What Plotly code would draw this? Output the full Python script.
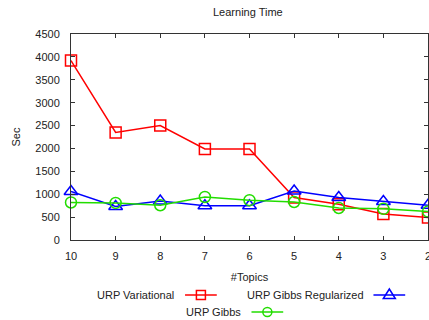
import plotly.graph_objects as go

# Learning time (seconds) per number of topics
topics = [10, 9, 8, 7, 6, 5, 4, 3, 2]
urp_variational = [3920, 2350, 2500, 1990, 1990, 930, 780, 570, 490]
urp_gibbs_reg = [1060, 730, 850, 750, 750, 1070, 930, 840, 760]
urp_gibbs = [820, 810, 760, 940, 870, 830, 700, 680, 620]

y_ticks = [0, 500, 1000, 1500, 2000, 2500, 3000, 3500, 4000, 4500]
x_ticks = topics

RED = "#ff0000"
GREEN = "#22dd00"
BLUE = "#0000ff"
FONT = "Liberation Sans, Arial, sans-serif"
AXIS = "#333333"

W, H = 433, 320
ML, MR, MT, MB = 71, 2, 34, 80
PW, PH = W - ML - MR, H - MT - MB

series = [
    ("URP Variational", urp_variational, RED, "square-open", 11),
    ("URP Gibbs Regularized", urp_gibbs_reg, BLUE, "triangle-up-open", 12),
    ("URP Gibbs", urp_gibbs, GREEN, "circle-open", 11),
]

fig = go.Figure()
for name, vals, col, sym, size in series:
    fig.add_trace(go.Scatter(
        x=topics, y=vals, name=name, mode="lines+markers",
        line=dict(color=col, width=1.5),
        marker=dict(symbol=sym, size=size, color=col, line=dict(color=col, width=1.5)),
        cliponaxis=False, showlegend=False,
    ))


def px_x(px):
    return (px - ML) / PW


def px_y(py):
    return (MT + PH - py) / PH


# gnuplot-style key: label on the left, sample line and marker on the right
key = [
    ("URP Variational", RED, "square", 177, 186, 218, 295),
    ("URP Gibbs Regularized", BLUE, "triangle", 368, 376, 408, 295),
    ("URP Gibbs", GREEN, "circle", 244, 253, 285, 312),
]
shapes = []
annotations = []
for label, col, kind, tx, lx0, lx1, ly in key:
    annotations.append(dict(
        x=px_x(tx), y=px_y(ly), xref="paper", yref="paper", text=label,
        showarrow=False, xanchor="right", yanchor="middle",
        font=dict(family=FONT, size=11, color="#222222"),
    ))
    shapes.append(dict(type="line", xref="paper", yref="paper",
                       x0=px_x(lx0), x1=px_x(lx1), y0=px_y(ly), y1=px_y(ly),
                       line=dict(color=col, width=1.5)))
    cx = px_x((lx0 + lx1) / 2)
    cy = px_y(ly)
    common = dict(xref="paper", yref="paper", xsizemode="pixel", ysizemode="pixel",
                  xanchor=cx, yanchor=cy, line=dict(color=col, width=1.5),
                  fillcolor="rgba(0,0,0,0)")
    if kind == "square":
        shapes.append(dict(type="rect", x0=-4.5, x1=4.5, y0=-4.5, y1=4.5, **common))
    elif kind == "circle":
        shapes.append(dict(type="circle", x0=-4.5, x1=4.5, y0=-4.5, y1=4.5, **common))
    else:
        shapes.append(dict(type="path", path="M-6,-3.5 L6,-3.5 L0,6 Z", **common))

annotations.append(dict(
    x=px_x(249), y=px_y(12), xref="paper", yref="paper", text="Learning Time",
    showarrow=False, xanchor="center", yanchor="middle",
    font=dict(family=FONT, size=11, color="#222222"),
))

fig.update_layout(
    width=W, height=H,
    margin=dict(l=ML, r=MR, t=MT, b=MB),
    paper_bgcolor="white", plot_bgcolor="white",
    font=dict(family=FONT, size=11, color="#222222"),
    showlegend=False,
    shapes=shapes,
    annotations=annotations,
    xaxis=dict(
        range=[10, 2], tickvals=x_ticks, ticktext=[str(t) for t in x_ticks],
        showgrid=False, zeroline=False, showline=True, linecolor=AXIS, linewidth=1,
        mirror="ticks", ticks="inside", ticklen=4, tickcolor=AXIS,
        ticklabelstandoff=6, ticklabeloverflow="allow",
        title=dict(text="#Topics", standoff=12, font=dict(size=11)),
    ),
    yaxis=dict(
        range=[0, 4500], tickvals=y_ticks,
        showgrid=False, zeroline=False, showline=True, linecolor=AXIS, linewidth=1,
        mirror="ticks", ticks="inside", ticklen=4, tickcolor=AXIS,
        ticklabelstandoff=8,
        title=dict(text="Sec", standoff=12, font=dict(size=11)),
    ),
)

fig.write_html(
    "out.html",
    post_script="document.documentElement.style.overflow='hidden';document.body.style.overflow='hidden';",
)
